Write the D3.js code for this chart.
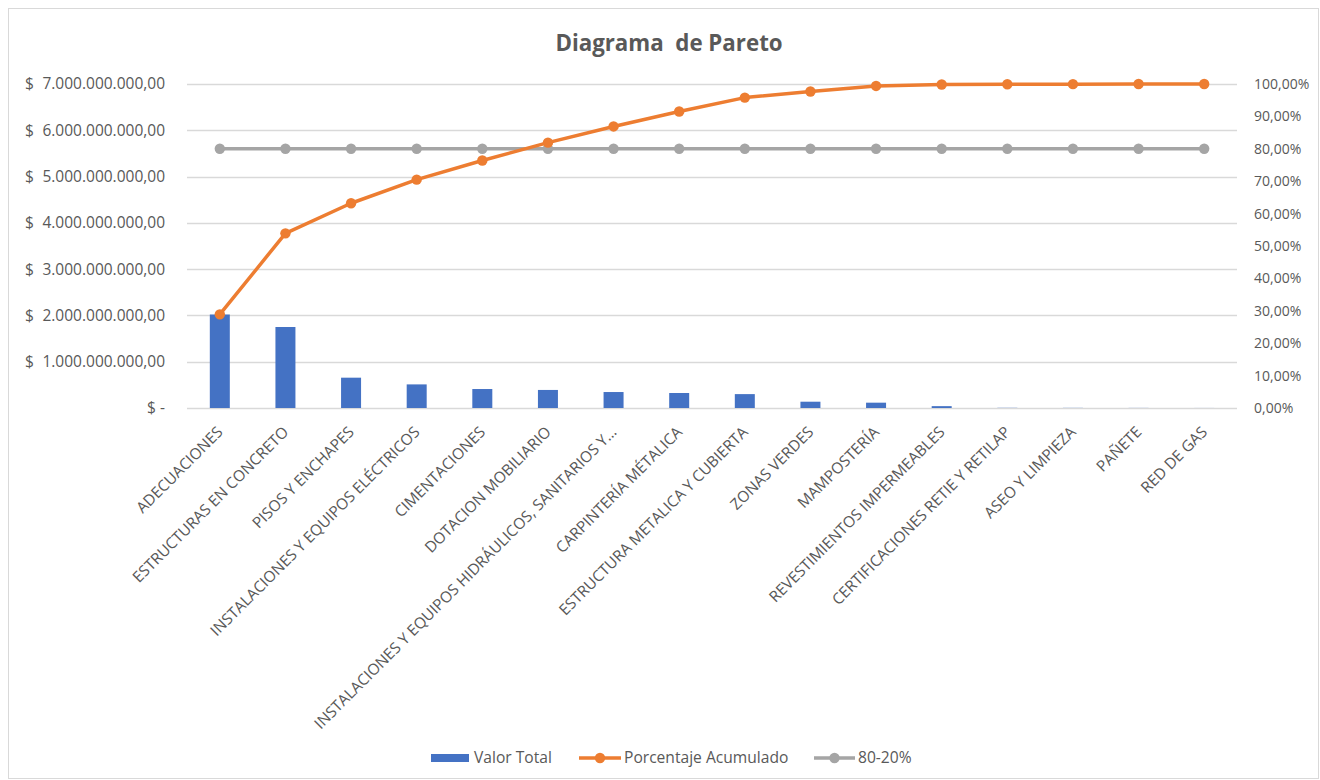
<!DOCTYPE html>
<html>
<head>
<meta charset="utf-8">
<script src="https://cdn.jsdelivr.net/npm/d3@7"></script>
<style>
  body { margin: 0; background: #fff; }
  svg text { font-family: "Open Sans", "Liberation Sans", Arial, sans-serif; fill: #595959; }
</style>
</head>
<body>
<div id="chart"></div>
<script>
// data
const categories = [
  "ADECUACIONES", "ESTRUCTURAS EN CONCRETO", "PISOS Y ENCHAPES",
  "INSTALACIONES Y EQUIPOS ELÉCTRICOS", "CIMENTACIONES", "DOTACION MOBILIARIO",
  "INSTALACIONES Y EQUIPOS HIDRÁULICOS, SANITARIOS Y…", "CARPINTERÍA MÉTALICA",
  "ESTRUCTURA METALICA Y CUBIERTA", "ZONAS VERDES", "MAMPOSTERÍA",
  "REVESTIMIENTOS IMPERMEABLES", "CERTIFICACIONES RETIE Y RETILAP",
  "ASEO Y LIMPIEZA", "PAÑETE", "RED DE GAS"
];
const valorTotal = [
  2020000000, 1750000000, 655000000, 510000000, 410000000, 390000000,
  345000000, 324000000, 300000000, 136000000, 115000000, 40000000,
  4000000, 3000000, 2000000, 1000000
];
const porcentajeAcumulado = [
  0.289, 0.539, 0.632, 0.705, 0.764, 0.819, 0.869, 0.915,
  0.958, 0.977, 0.994, 0.9985, 0.9992, 0.9996, 0.9999, 1.0
];
const linea8020 = [0.8, 0.8, 0.8, 0.8, 0.8, 0.8, 0.8, 0.8, 0.8, 0.8, 0.8, 0.8, 0.8, 0.8, 0.8, 0.8];
const leftTicks = [0, 1e9, 2e9, 3e9, 4e9, 5e9, 6e9, 7e9];
const rightTicks = [0, 0.1, 0.2, 0.3, 0.4, 0.5, 0.6, 0.7, 0.8, 0.9, 1.0];

const W = 1320, H = 780;
const plot = {left: 187, right: 1237, top: 84, bottom: 408};

const svg = d3.select("#chart").append("svg")
  .attr("width", W).attr("height", H);

// chart border
svg.append("rect")
  .attr("x", 8.5).attr("y", 8.5)
  .attr("width", W - 10).attr("height", H - 10)
  .attr("fill", "#fff").attr("stroke", "#d9d9d9");

const locale = d3.formatLocale({decimal: ",", thousands: ".", grouping: [3], currency: ["", ""]});
const fmtMoney = v => v === 0 ? "-" : locale.format(",.2f")(v);
const fmtPct = locale.format(".2%");

const x = d3.scaleBand().domain(categories).range([plot.left, plot.right]).padding(0);
const cx = d => x(d) + x.bandwidth() / 2;
const y = d3.scaleLinear().domain([0, 7e9]).range([plot.bottom, plot.top]);
const y2 = d3.scaleLinear().domain([0, 1]).range([plot.bottom, plot.top]);

// gridlines
svg.append("g")
  .selectAll("line")
  .data(leftTicks)
  .enter().append("line")
    .attr("x1", plot.left).attr("x2", plot.right)
    .attr("y1", d => Math.round(y(d)) + 0.5).attr("y2", d => Math.round(y(d)) + 0.5)
    .attr("stroke", "#d9d9d9").attr("stroke-width", 1.3);

// left axis (accounting style: "$" pinned left, amount right aligned)
const leftAxis = svg.append("g")
  .attr("transform", `translate(${plot.left - 22},0)`)
  .call(d3.axisLeft(y).tickValues(leftTicks).tickFormat(fmtMoney).tickSize(0).tickPadding(0));
leftAxis.select(".domain").remove();
leftAxis.selectAll("text").style("font-size", "15.5px").attr("fill", "#595959");
leftAxis.selectAll(".tick").append("text")
  .attr("x", d => d === 0 ? -18 : -140)
  .attr("dy", "0.32em")
  .attr("text-anchor", "start")
  .attr("fill", "#595959")
  .style("font-size", "15.5px")
  .text("$");

// right axis
const rightAxis = svg.append("g")
  .attr("transform", `translate(${plot.right + 17},0)`)
  .call(d3.axisRight(y2).tickValues(rightTicks).tickFormat(fmtPct).tickSize(0).tickPadding(0));
rightAxis.select(".domain").remove();
rightAxis.selectAll("text").style("font-size", "14px").attr("fill", "#595959");

// x labels
svg.append("g")
  .selectAll("text")
  .data(categories)
  .enter().append("text")
    .attr("transform", d => `translate(${cx(d) + 4},${plot.bottom + 25}) rotate(-45)`)
    .attr("text-anchor", "end")
    .style("font-size", "15.4px")
    .text(d => d);

// bars
const barW = 20;
svg.append("g")
  .selectAll("rect")
  .data(categories)
  .enter().append("rect")
    .attr("x", d => cx(d) - barW / 2)
    .attr("y", (d, i) => y(valorTotal[i]))
    .attr("width", barW)
    .attr("height", (d, i) => plot.bottom - y(valorTotal[i]))
    .attr("fill", "#4472c4");

// lines
function drawLine(values, color) {
  const line = d3.line()
    .x((d, i) => cx(categories[i]))
    .y(d => y2(d));
  svg.append("path")
    .datum(values)
    .attr("d", line)
    .attr("fill", "none")
    .attr("stroke", color)
    .attr("stroke-width", 3.5)
    .attr("stroke-linejoin", "round");
  svg.append("g")
    .selectAll("circle")
    .data(values)
    .enter().append("circle")
      .attr("cx", (d, i) => cx(categories[i]))
      .attr("cy", d => y2(d))
      .attr("r", 5.2)
      .attr("fill", color);
}
drawLine(linea8020, "#a5a5a5");
drawLine(porcentajeAcumulado, "#ed7d31");

// title
svg.append("text")
  .attr("x", 669).attr("y", 51)
  .attr("text-anchor", "middle")
  .style("font-size", "22.3px")
  .style("font-weight", "bold")
  .style("white-space", "pre")
  .text("Diagrama  de Pareto");

// legend
const legendY = 758;
const leg = svg.append("g");
leg.append("rect").attr("x", 431).attr("y", legendY - 4).attr("width", 38).attr("height", 8).attr("fill", "#4472c4");
leg.append("text").attr("x", 474).attr("y", legendY).attr("dy", "0.35em").style("font-size", "15.6px").text("Valor Total");
const legendLines = [
  {x1: 579, x2: 621, color: "#ed7d31", label: "Porcentaje Acumulado"},
  {x1: 814, x2: 855, color: "#a5a5a5", label: "80-20%"}
];
legendLines.forEach(l => {
  leg.append("line").attr("x1", l.x1).attr("x2", l.x2).attr("y1", legendY).attr("y2", legendY)
    .attr("stroke", l.color).attr("stroke-width", 3.5);
  leg.append("circle").attr("cx", (l.x1 + l.x2) / 2).attr("cy", legendY).attr("r", 5.2).attr("fill", l.color);
  leg.append("text").attr("x", l.x2 + 3).attr("y", legendY).attr("dy", "0.35em").style("font-size", "15.6px").text(l.label);
});
</script>
</body>
</html>
